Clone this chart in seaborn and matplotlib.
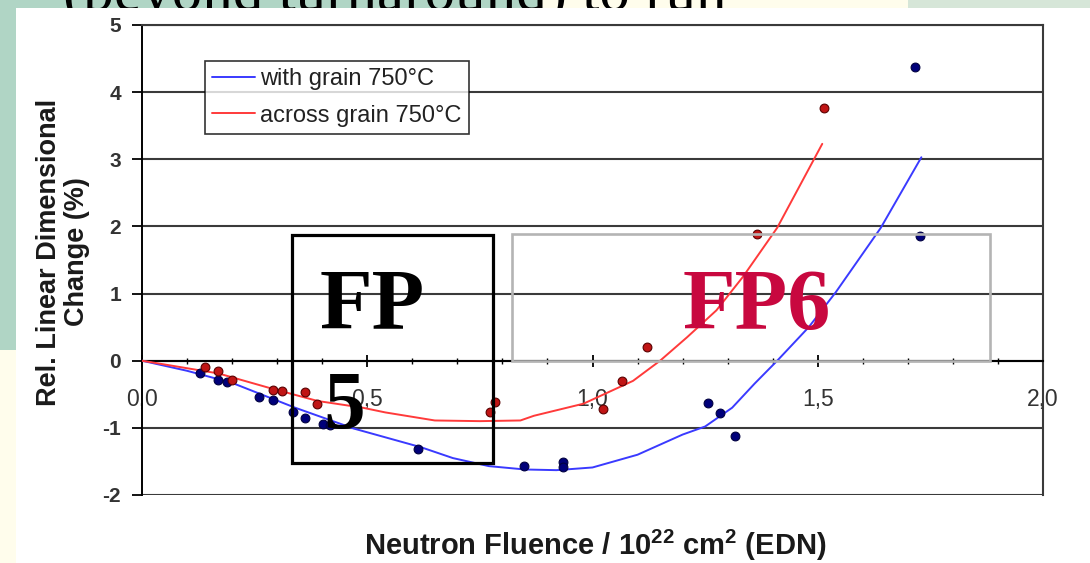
import matplotlib
matplotlib.use("Agg")
import matplotlib.pyplot as plt
from matplotlib.patches import Rectangle
from matplotlib.ticker import MultipleLocator, FuncFormatter
import pandas as pd
import seaborn as sns

# Trend curves: fluence (10^22 cm^-2) vs. relative linear dimensional change (%)
with_grain_fit_x = [0.00, 0.10, 0.20, 0.34, 0.47, 0.62, 0.69, 0.77, 0.85, 0.92, 1.00,
                    1.10, 1.20, 1.25, 1.31, 1.36, 1.41, 1.48, 1.54, 1.64, 1.73]
with_grain_fit_y = [0.00, -0.15, -0.33, -0.70, -1.01, -1.29, -1.45, -1.57, -1.62, -1.63, -1.59,
                    -1.40, -1.10, -0.98, -0.70, -0.34, 0.00, 0.50, 1.02, 1.98, 3.03]
across_grain_fit_x = [0.00, 0.17, 0.28, 0.39, 0.49, 0.54, 0.65, 0.75, 0.84, 0.87, 0.98,
                      1.09, 1.15, 1.21, 1.275, 1.334, 1.41, 1.51]
across_grain_fit_y = [0.00, -0.19, -0.40, -0.60, -0.70, -0.77, -0.89, -0.90, -0.89, -0.82, -0.64,
                      -0.30, 0.00, 0.35, 0.75, 1.25, 1.98, 3.23]

# Measured specimens
with_grain_x = [0.129, 0.169, 0.189, 0.260, 0.290, 0.335, 0.361, 0.402, 0.418, 0.613,
                0.848, 0.934, 0.934, 1.256, 1.283, 1.316, 1.716, 1.727]
with_grain_y = [-0.19, -0.29, -0.32, -0.54, -0.59, -0.77, -0.86, -0.94, -0.96, -1.31,
                -1.565, -1.505, -1.58, -0.63, -0.775, -1.12, 4.37, 1.86]
across_grain_x = [0.140, 0.169, 0.199, 0.291, 0.310, 0.362, 0.388, 0.772, 0.784,
                  1.023, 1.066, 1.121, 1.365, 1.514]
across_grain_y = [-0.09, -0.15, -0.29, -0.44, -0.45, -0.46, -0.65, -0.77, -0.62,
                  -0.715, -0.30, 0.21, 1.88, 3.76]

series_labels = ["with grain 750°C", "across grain 750°C"]
x_ticks = [0.0, 0.5, 1.0, 1.5, 2.0]
y_ticks = [-2, -1, 0, 1, 2, 3, 4, 5]

fits = pd.concat([
    pd.DataFrame({"fluence": with_grain_fit_x, "change": with_grain_fit_y, "series": series_labels[0]}),
    pd.DataFrame({"fluence": across_grain_fit_x, "change": across_grain_fit_y, "series": series_labels[1]}),
], ignore_index=True)
pts_with = pd.DataFrame({"fluence": with_grain_x, "change": with_grain_y})
pts_across = pd.DataFrame({"fluence": across_grain_x, "change": across_grain_y})

sns.set_theme(style="white")
plt.rcParams["font.family"] = ["Liberation Sans", "DejaVu Sans"]
plt.rcParams["mathtext.fontset"] = "custom"
plt.rcParams["mathtext.rm"] = "Liberation Sans"
plt.rcParams["mathtext.bf"] = "Liberation Sans:bold"

W, H = 1090, 563
fig = plt.figure(figsize=(W / 100, H / 100), dpi=100)
fig.patch.set_facecolor("#fffdec")

def fx(px):
    return px / W

def fy(py):
    return 1 - py / H

# slide backdrop
fig.add_artist(Rectangle((0, fy(350)), fx(16), 350 / H, transform=fig.transFigure,
                         facecolor="#b0d5c5", edgecolor="none", zorder=0))
fig.add_artist(Rectangle((0, fy(8)), fx(540), 8 / H, transform=fig.transFigure,
                         facecolor="#b0d5c5", edgecolor="none", zorder=0))
fig.add_artist(Rectangle((fx(908), fy(8)), fx(1090 - 908), 8 / H, transform=fig.transFigure,
                         facecolor="#d6e6d8", edgecolor="none", zorder=0))
fig.text(fx(63), fy(10), "(beyond turnaround) to run", family=["Liberation Serif", "DejaVu Serif"],
         fontsize=44, color="black", ha="left", va="baseline", zorder=1)
fig.add_artist(Rectangle((fx(16), 0), fx(W - 16), fy(8), transform=fig.transFigure,
                         facecolor="white", edgecolor="none", zorder=2))

ax = fig.add_axes([fx(142), fy(495), fx(1043) - fx(142), (495 - 25) / H])
ax.set_zorder(3)
ax.patch.set_alpha(0)

palette = {series_labels[0]: "#3a3aff", series_labels[1]: "#ff3a3a"}
sns.lineplot(data=fits, x="fluence", y="change", hue="series", palette=palette,
             sort=False, estimator=None, linewidth=1.4, ax=ax, zorder=3)
sns.scatterplot(data=pts_with, x="fluence", y="change", color="#00007a", edgecolor="#000040",
                linewidth=0.8, s=40, ax=ax, zorder=4, legend=False)
sns.scatterplot(data=pts_across, x="fluence", y="change", color="#c01515", edgecolor="#5a0000",
                linewidth=0.8, s=40, ax=ax, zorder=4, legend=False)

ax.set_xlim(0, 2.0)
ax.set_ylim(-2, 5)

# axes frame, grid and ticks
ax.yaxis.grid(True, color="#3a3a3a", linewidth=1.5)
ax.xaxis.grid(False)
ax.set_axisbelow(True)
ax.spines["bottom"].set_position(("data", 0))
for side in ("top", "right"):
    ax.spines[side].set_visible(True)
    ax.spines[side].set_color("#3a3a3a")
    ax.spines[side].set_linewidth(1.5)
ax.spines["left"].set_color("black")
ax.spines["left"].set_linewidth(1.4)
ax.spines["bottom"].set_color("black")
ax.spines["bottom"].set_linewidth(1.5)

ax.set_xticks(x_ticks)
ax.xaxis.set_minor_locator(MultipleLocator(0.1))
ax.xaxis.set_major_formatter(FuncFormatter(lambda v, p: f"{v:.1f}".replace(".", ",")))
ax.set_yticks(y_ticks)
ax.yaxis.set_major_formatter(FuncFormatter(lambda v, p: f"{int(round(v))}"))
ax.tick_params(axis="x", which="major", bottom=True, direction="inout", length=9, width=1.3,
               color="black", pad=15.5, labelsize=16.5, labelcolor="#333333")
ax.tick_params(axis="x", which="minor", bottom=True, direction="inout", length=5, width=1.0,
               color="black")
ax.tick_params(axis="y", which="major", left=True, direction="out", length=7, width=1.3,
               color="black", pad=8, labelsize=15, labelcolor="#333333")
for lab in ax.get_yticklabels():
    lab.set_fontweight("bold")

ax.set_xlabel(r"Neutron Fluence / 10$^{\mathbf{22}}$ cm$^{\mathbf{2}}$ (EDN)",
              fontsize=21, fontweight="bold", color="#1a1a1a")
ax.xaxis.set_label_coords(0.503, -0.108)
ax.xaxis.label.set_va("center")
ax.set_ylabel("Rel. Linear Dimensional\nChange (%)", fontsize=19.5, fontweight="bold",
              color="#1a1a1a", linespacing=1.1)
ax.yaxis.set_label_coords(-0.088, 0.517)
ax.yaxis.label.set_va("center")
ax.yaxis.label.set_ha("center")

# legend
handles, labels = ax.get_legend_handles_labels()
leg = ax.legend(handles, labels, loc="upper left",
                bbox_to_anchor=((205 - 142) / 901, (495 - 61) / 470),
                borderaxespad=0, frameon=True, fancybox=False, fontsize=17,
                handlelength=1.8, handletextpad=0.25, borderpad=0.3, labelspacing=0.62)
leg.get_frame().set_edgecolor("black")
leg.get_frame().set_linewidth(1.2)
for t in leg.get_texts():
    t.set_color("#222222")
leg.set_zorder(6)

# programme framing overlays
serif = ["Liberation Serif", "DejaVu Serif"]
ax.add_patch(Rectangle((0.333, -1.52), 0.779 - 0.333, 1.878 + 1.52, fill=False,
                       edgecolor="black", linewidth=2.3, zorder=5, clip_on=False))
ax.add_patch(Rectangle((0.821, 0.0), 1.882 - 0.821, 1.893, fill=False,
                       edgecolor="#b4b4b4", linewidth=1.9, zorder=5, clip_on=False))
ax.text(0.395, 0.477, "FP", family=serif, fontweight="bold", fontsize=62, color="black",
        ha="left", va="baseline", zorder=6)
ax.text(0.402, -1.0, "5", family=serif, fontweight="bold", fontsize=60, color="black",
        ha="left", va="baseline", zorder=6)
ax.text(1.201, 0.477, "FP6", family=serif, fontweight="bold", fontsize=62, color="#c8083f",
        ha="left", va="baseline", zorder=6)

fig.savefig("out.png", dpi=100, facecolor=fig.get_facecolor())
